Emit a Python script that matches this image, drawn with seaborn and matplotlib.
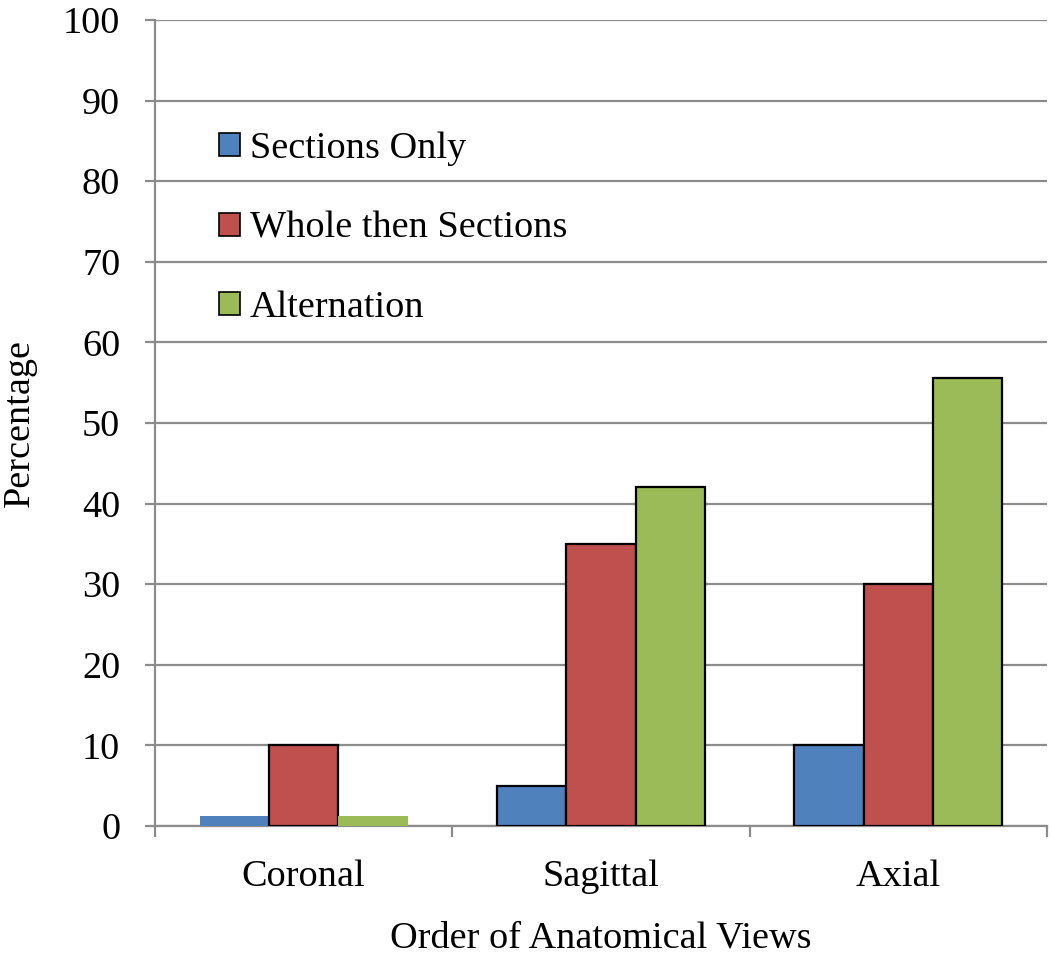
import matplotlib
matplotlib.use("Agg")
import matplotlib.pyplot as plt
import seaborn as sns
import pandas as pd

categories = ["Coronal", "Sagittal", "Axial"]
series_names = ["Sections Only", "Whole then Sections", "Alternation"]
sections_only = [1.2, 5.0, 10.0]
whole_then_sections = [10.0, 35.0, 30.0]
alternation = [1.2, 42.0, 55.6]
yticks = [0, 10, 20, 30, 40, 50, 60, 70, 80, 90, 100]
colors = ["#4F81BD", "#C0504D", "#9BBB59"]

rows = []
for name, vals in zip(series_names, [sections_only, whole_then_sections, alternation]):
    for c, v in zip(categories, vals):
        rows.append({"view": c, "series": name, "value": v})
df = pd.DataFrame(rows)

sns.set_style("white")
plt.rcParams["font.family"] = ["Liberation Serif", "DejaVu Serif"]
plt.rcParams["text.color"] = "black"
plt.rcParams["axes.labelcolor"] = "black"
plt.rcParams["xtick.labelcolor"] = "black"
plt.rcParams["ytick.labelcolor"] = "black"
FS = 27.5

fig = plt.figure(figsize=(10.5, 9.57), dpi=100)
ax = fig.add_axes([155/1050, 131/957, 892/1050, 806/957])

sns.barplot(data=df, x="view", y="value", hue="series", order=categories,
            hue_order=series_names, palette=colors, width=0.7,
            saturation=1, ax=ax, zorder=3, errorbar=None)

for p in ax.patches:
    h = p.get_height()
    if h is None:
        continue
    if h > 2:
        p.set_edgecolor("black")
        p.set_linewidth(1.6)
    else:
        p.set_edgecolor("none")

ax.set_ylim(0, 100)
ax.set_xlim(-0.5, 2.5)
ax.set_yticks(yticks)
ax.yaxis.grid(True, color="#8c8c8c", linewidth=1.6, zorder=0)
ax.set_axisbelow(True)
for s in ["top", "right"]:
    ax.spines[s].set_visible(False)
for s in ["left", "bottom"]:
    ax.spines[s].set_color("#8c8c8c")
    ax.spines[s].set_linewidth(1.6)

ax.tick_params(axis="y", direction="out", length=7, width=1.6, color="#8c8c8c",
               pad=18, labelsize=FS, left=True, labelcolor="black")
ax.tick_params(axis="x", which="major", length=0, pad=24, labelsize=FS, labelcolor="black")
ax.set_xticks([-0.5, 0.5, 1.5, 2.5], minor=True)
ax.tick_params(axis="x", which="minor", direction="out", length=8, width=1.6,
               color="#8c8c8c", bottom=True)

ax.set_xlabel("Order of Anatomical Views", fontsize=FS, color="black")
ax.set_ylabel("Percentage", fontsize=FS, color="black")
ax.xaxis.set_label_coords(0.5, -0.118)
ax.yaxis.set_label_coords(-0.132, 0.5)

leg = ax.legend(loc="upper left", bbox_to_anchor=(0.055, 0.88), frameon=False,
                fontsize=FS, handlelength=0.55, handleheight=0.55,
                handletextpad=0.25, labelspacing=1.17, borderaxespad=0)
for t in leg.get_texts():
    t.set_color("black")
for h in leg.legend_handles:
    h.set_edgecolor("black")
    h.set_linewidth(1.2)

fig.savefig("out.png", dpi=100)
